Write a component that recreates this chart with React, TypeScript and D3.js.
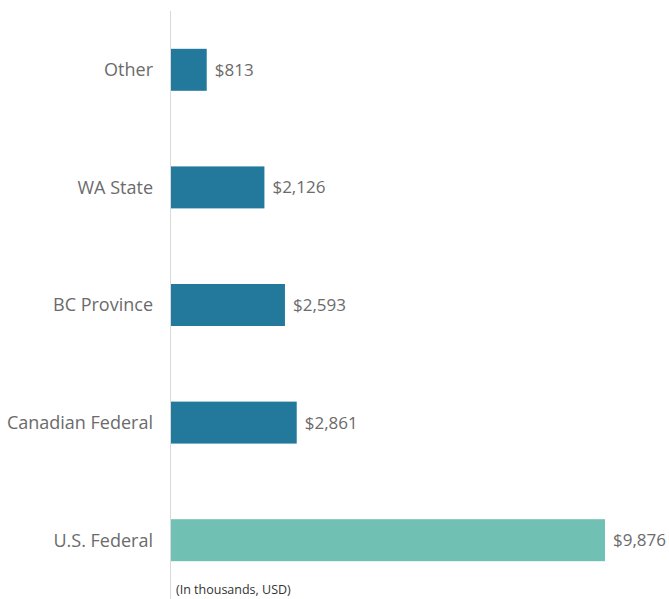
import React, { useEffect, useRef } from "react";
import * as d3 from "d3";

// funding sources (thousands of USD)
const categories = ["Other", "WA State", "BC Province", "Canadian Federal", "U.S. Federal"];
const values = [813, 2126, 2593, 2861, 9876];
const barColors = ["#23799c", "#23799c", "#23799c", "#23799c", "#70c0b3"];
const footnote = "(In thousands, USD)";

function App() {
  const ref = useRef<SVGSVGElement>(null);

  useEffect(() => {
    const width = 669;
    const height = 599;
    const svg = d3.select(ref.current);
    svg.selectAll("*").remove();

    const left = 171;

    // x scale: value -> pixels
    const xScale = d3.scaleLinear().domain([0, 9876]).range([left, 605]);

    // y scale: one band per category
    const yScale = d3
      .scaleBand()
      .domain(categories)
      .range([11, 599])
      .paddingInner(0.643)
      .paddingOuter(0.3215);

    // vertical axis line
    svg
      .append("line")
      .attr("x1", left - 0.5)
      .attr("x2", left - 0.5)
      .attr("y1", 11)
      .attr("y2", 599)
      .attr("stroke", "#d9d9d9")
      .attr("stroke-width", 1);

    // bars
    svg
      .selectAll(".bar")
      .data(values)
      .join("rect")
      .attr("class", "bar")
      .attr("x", left)
      .attr("y", (d, i) => yScale(categories[i]) as number)
      .attr("width", (d) => xScale(d) - left)
      .attr("height", yScale.bandwidth())
      .attr("fill", (d, i) => barColors[i]);

    // category labels
    svg
      .selectAll(".cat")
      .data(categories)
      .join("text")
      .attr("class", "cat")
      .attr("x", 153)
      .attr("y", (d) => (yScale(d) as number) + yScale.bandwidth() / 2)
      .attr("dy", "0.35em")
      .attr("text-anchor", "end")
      .attr("font-size", 18)
      .attr("fill", "#6b6b6b")
      .text((d) => d);

    // value labels
    svg
      .selectAll(".val")
      .data(values)
      .join("text")
      .attr("class", "val")
      .attr("x", (d) => xScale(d) + 8)
      .attr("y", (d, i) => (yScale(categories[i]) as number) + yScale.bandwidth() / 2)
      .attr("dy", "0.35em")
      .attr("font-size", 17)
      .attr("fill", "#6b6b6b")
      .text((d) => "$" + d3.format(",")(d));

    // footnote
    svg
      .append("text")
      .attr("x", 176)
      .attr("y", 594)
      .attr("font-size", 12.5)
      .attr("fill", "#333")
      .text(footnote);

    svg.attr("width", width).attr("height", height);
  }, []);

  return (
    <svg
      ref={ref}
      width={669}
      height={599}
      style={{ position: "absolute", left: 0, top: 0, fontFamily: "'Open Sans', sans-serif", background: "#fff" }}
    />
  );
}

export default App;
